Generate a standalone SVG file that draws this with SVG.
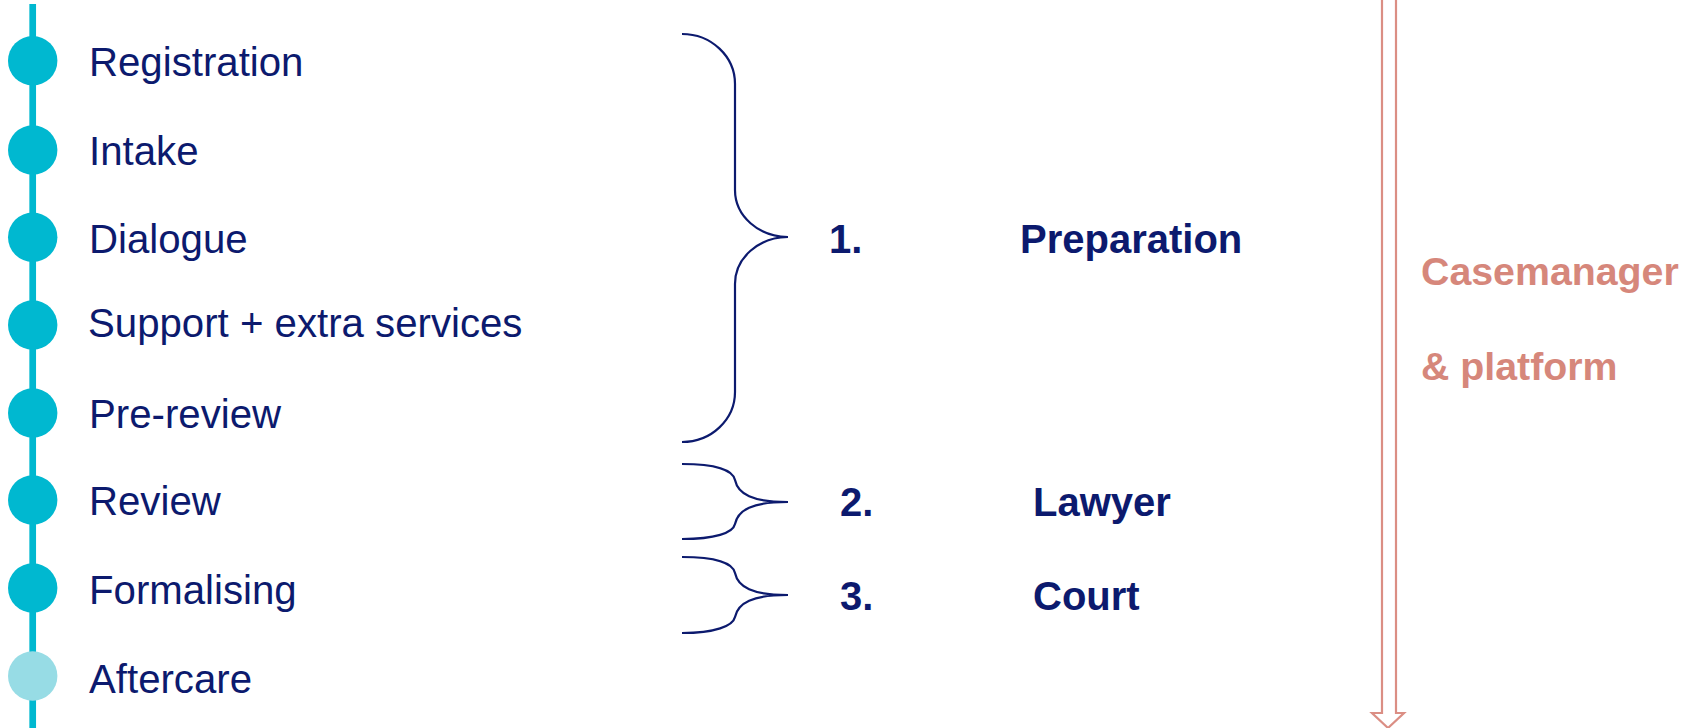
<svg xmlns="http://www.w3.org/2000/svg" width="1696" height="728" viewBox="0 0 1696 728">
<style>
.step{font-family:"Liberation Sans",Arial,sans-serif;font-size:40.2px;fill:#0C1A6E}
.phase{font-family:"Liberation Sans",Arial,sans-serif;font-size:40px;font-weight:bold;fill:#0C1A6E}
.cm{font-family:"Liberation Sans",Arial,sans-serif;font-size:39.3px;font-weight:bold;fill:#D6877B}
.dot{fill:#00B8D0}
.dot-light{fill:#97DCE5}
.brace{fill:none;stroke:#0C1A6E;stroke-width:2.2}
</style>
<rect width="1696" height="728" fill="#ffffff"/>
<g id="connectors">
<line x1="32.7" y1="4" x2="32.7" y2="728" stroke="#00B8D0" stroke-width="6.7"/>
<path class="brace" d="M682,34 A53,50 0 0 1 735,84 V190 A53,47 0 0 0 788,237 A53,47 0 0 0 735,284 V392 A53,50 0 0 1 682,442"/>
<path class="brace" d="M682,464 C715,464 733,470 735,480 C738,494 752,502 788,502 C752,502 738,510 735,524 C733,533 715,539 682,539"/>
<path class="brace" d="M682,557 C715,557 733,563 735,573 C738,587 752,595 788,595 C752,595 738,603 735,617 C733,626 715,633 682,633"/>
<path d="M1382,-5 V713 H1372 L1388,728 L1404,713 H1396 V-5" fill="none" stroke="#DB8E84" stroke-width="2.2"/>
</g>
<g id="n-registration"><circle class="dot" cx="32.7" cy="60.7" r="24.7"/><text class="step" x="89" y="76">Registration</text></g>
<g id="n-intake"><circle class="dot" cx="32.7" cy="150" r="24.7"/><text class="step" x="89" y="165">Intake</text></g>
<g id="n-dialogue"><circle class="dot" cx="32.7" cy="237.3" r="24.7"/><text class="step" x="89" y="253">Dialogue</text></g>
<g id="n-support"><circle class="dot" cx="32.7" cy="325" r="24.7"/><text class="step" x="88" y="336.5">Support + extra services</text></g>
<g id="n-prereview"><circle class="dot" cx="32.7" cy="413" r="24.7"/><text class="step" x="89" y="428">Pre-review</text></g>
<g id="n-review"><circle class="dot" cx="32.7" cy="500" r="24.7"/><text class="step" x="89" y="515">Review</text></g>
<g id="n-formalising"><circle class="dot" cx="32.7" cy="588" r="24.7"/><text class="step" x="89" y="604">Formalising</text></g>
<g id="n-aftercare"><circle class="dot-light" cx="32.7" cy="676" r="24.7"/><text class="step" x="89" y="693">Aftercare</text></g>
<g id="p-preparation"><text class="phase" x="829" y="253">1.</text><text class="phase" x="1020" y="253">Preparation</text></g>
<g id="p-lawyer"><text class="phase" x="840" y="516">2.</text><text class="phase" x="1033" y="516">Lawyer</text></g>
<g id="p-court"><text class="phase" x="840" y="610">3.</text><text class="phase" x="1033" y="610">Court</text></g>
<g id="casemanager"><text class="cm" x="1421" y="285">Casemanager</text><text class="cm" x="1421" y="380">&amp; platform</text></g>
</svg>
